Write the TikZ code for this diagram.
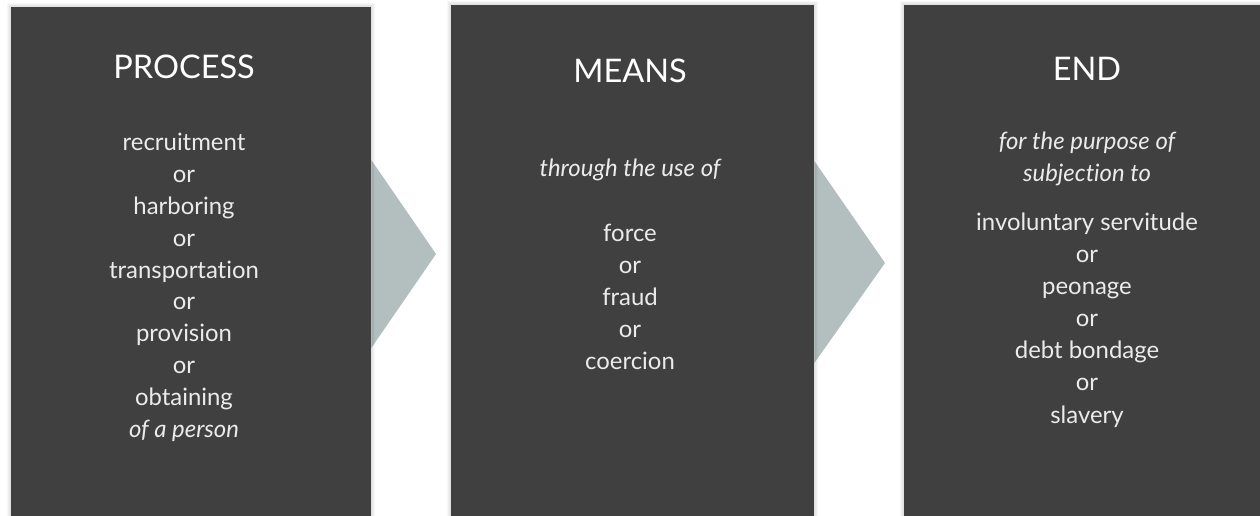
\documentclass[tikz,border=0pt]{standalone}
\usepackage{fontspec}
\setmainfont{Lato}[Ligatures=NoCommon]
\usetikzlibrary{backgrounds,calc}
\definecolor{boxgray}{HTML}{404040}
\definecolor{arrowgray}{HTML}{B3BFBE}
\definecolor{textgray}{HTML}{EBEBEB}

\begin{document}
\begin{tikzpicture}[
    x=0.02cm, y=-0.02cm,
    box/.style={fill=boxgray, inner sep=0pt, minimum width=#1, minimum height=10.22cm},
    title/.style={anchor=base, text=white, font=\fontsize{18.5}{22}\selectfont},
    item/.style={anchor=base, text=textgray, font=\fontsize{13.6}{16}\selectfont},
    note/.style={item, font=\fontsize{13.6}{16}\selectfont\itshape}]
  \useasboundingbox (0,0) rectangle (1260,516);
  % Boxes
  \node[box=7.2cm, minimum height=10.18cm] (procbox) at (191,261.5) {};
  \node[box=7.26cm] (meansbox) at (632.5,260.5) {};
  \node[box=7.24cm] (endbox) at (1085,260.5) {};
  % Process
  \node[title] (proctitle) at (184,79) {PROCESS};
  \foreach \txt [count=\i] in {recruitment, or, harboring, or, transportation,
      or, provision, or, obtaining, {\itshape of a person}}
    \node[item] (proc\i) at (184,{151+31.8*(\i-1)}) {\txt};
  % Means
  \node[title] (meanstitle) at (630,83) {MEANS};
  \node[note] (meansvia) at (630,177) {through the use of};
  \foreach \txt [count=\i] in {force, or, fraud, or, coercion}
    \node[item] (means\i) at (630,{242+31.8*(\i-1)}) {\txt};
  % End
  \node[title] (endtitle) at (1087,81) {END};
  \node[note] (endfor) at (1087,150) {for the purpose of};
  \node[note] (endto) at (1087,182) {subjection to};
  \foreach \txt [count=\i] in {involuntary servitude, or, peonage, or,
      debt bondage, or, slavery}
    \node[item] (end\i) at (1087,{231+32*(\i-1)}) {\txt};
  % Chevrons and shadows
  \begin{scope}[on background layer]
    \fill[arrowgray] (procbox.east |- 0,160) -- (436,254) -- (procbox.east |- 0,348) -- cycle;
    \fill[arrowgray] (meansbox.east |- 0,161) -- (885,263) -- (meansbox.east |- 0,363) -- cycle;
    \foreach \b in {procbox,meansbox,endbox}
      \foreach \s in {1,...,4}
        \fill[black, opacity=0.03] ($(\b.north west)+(-\s,-\s)$) rectangle ($(\b.south east)+(\s,\s)$);
  \end{scope}
\end{tikzpicture}
\end{document}
